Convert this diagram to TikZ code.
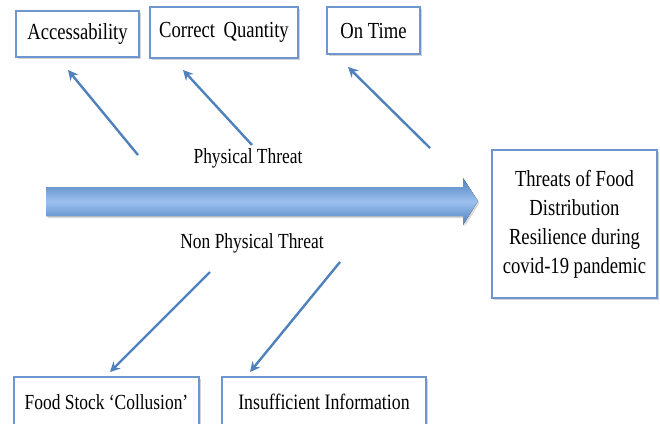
\documentclass[tikz,border=0pt]{standalone}
\usepackage{fontspec}
\setmainfont[FakeStretch=0.81]{Liberation Serif}
\usetikzlibrary{shadows,arrows.meta}
\definecolor{boxline}{HTML}{6E97CF}
\definecolor{arrblue}{HTML}{4F81BD}
\definecolor{arrlight}{HTML}{9CC0F0}
\begin{document}
\begin{tikzpicture}[x=1pt,y=-1pt,
  lbox/.style={draw=boxline,line width=1.1pt,fill=white,inner sep=0pt,
    drop shadow={opacity=0.35,shadow xshift=1.5pt,shadow yshift=-2pt},
    font=\fontsize{23}{26}\selectfont},
  lbl/.style={font=\fontsize{21.5}{24}\selectfont},
  diag/.style={draw=arrblue,line width=2.4pt,-{Stealth[length=10pt,width=10pt]}}]
\useasboundingbox (0,0) rectangle (660,423);
% top boxes
\node[lbox,minimum width=123pt,minimum height=46pt] (acc) at (77.5,34) {Accessability};
\node[lbox,minimum width=148pt,minimum height=51pt] (cq) at (224,32.5) {Correct\, Quantity};
\node[lbox,minimum width=93pt,minimum height=47pt] (ot) at (373.5,30.5) {On Time};
% bottom boxes
\node[lbox,minimum width=185pt,minimum height=50pt,font=\fontsize{21.5}{24}\selectfont] (fs) at (106.5,402) {Food Stock `Collusion'};
\node[lbox,minimum width=204pt,minimum height=50pt,font=\fontsize{22}{24}\selectfont] (ii) at (324,402) {Insufficient Information};
% main box
\node[lbox,minimum width=165pt,minimum height=148pt,align=center,
  font=\fontsize{23}{29}\selectfont] (main) at (574.5,224)
  {Threats of Food\\Distribution\\Resilience during\\covid-19 pandemic};
% big arrow
\coordinate (spineS) at (46,201);
\coordinate (spineE) at (478,201);
\fill[top color=arrblue,bottom color=arrblue,middle color=arrlight,
  drop shadow={opacity=0.3,shadow xshift=1.5pt,shadow yshift=-2pt}]
  (46,187) -- (463,187) -- (463,178) -- (478,201) -- (463,225) -- (463,216) -- (46,216) -- cycle;
% labels
\node[lbl] (phys) at (248,158) {Physical Threat};
\node[lbl] (nonphys) at (252,243) {Non Physical Threat};
% diagonal arrows
\coordinate (a1s) at (138,155); \coordinate (a1e) at (68,70);
\coordinate (a2s) at (252,145); \coordinate (a2e) at (183,70);
\coordinate (a3s) at (430,148); \coordinate (a3e) at (348,67);
\coordinate (b1s) at (210,272); \coordinate (b1e) at (110,372);
\coordinate (b2s) at (340,262); \coordinate (b2e) at (250,372);
\draw[diag] (a1s) -- (a1e);
\draw[diag] (a2s) -- (a2e);
\draw[diag] (a3s) -- (a3e);
\draw[diag] (b1s) -- (b1e);
\draw[diag] (b2s) -- (b2e);
\end{tikzpicture}
\end{document}
